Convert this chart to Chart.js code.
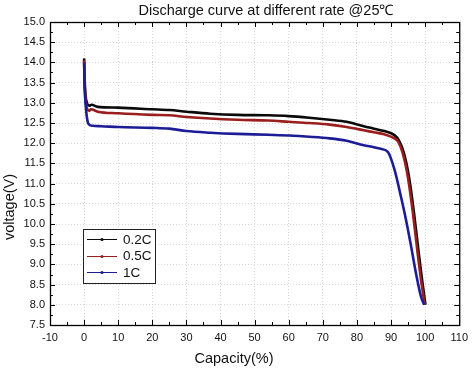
<!DOCTYPE html>
<html>
<head>
<meta charset="utf-8">
<script src="https://cdn.jsdelivr.net/npm/chart.js@4/dist/chart.umd.min.js"></script>
<style>
html,body{margin:0;padding:0;background:#fff;}
#wrap{width:474px;height:370px;}
</style>
</head>
<body>
<div id="wrap"><canvas id="c" width="474" height="370"></canvas></div>
<script>
const titleText = 'Discharge curve at different rate @25\u2103';
const xTitle = 'Capacity(%)';
const yTitle = 'voltage(V)';
const seriesLabels = ['0.2C', '0.5C', '1C'];
const cap02 = [0, 0.15, 0.4, 0.9, 1.5, 2.2, 4, 10, 20, 25, 30, 37, 45, 54, 60, 66, 72, 77, 82, 85, 88, 91, 92.3, 93.7, 95.2, 96.7, 98.1, 99.1, 100.1];
const volt02 = [14.1, 13.6, 13.2, 12.98, 12.93, 12.95, 12.9, 12.88, 12.84, 12.82, 12.78, 12.73, 12.7, 12.69, 12.67, 12.63, 12.58, 12.53, 12.42, 12.36, 12.3, 12.2, 12.07, 11.78, 11.2, 10.3, 9.3, 8.62, 8.0];
const cap05 = [0, 0.15, 0.4, 0.9, 1.5, 2, 4, 10, 20, 25, 30, 37, 45, 54, 60, 66, 72, 77, 82, 85, 88, 91, 92, 93.4, 94.9, 96.4, 97.8, 98.8, 99.9];
const volt05 = [14.05, 13.5, 13.1, 12.85, 12.8, 12.84, 12.78, 12.74, 12.7, 12.69, 12.65, 12.61, 12.58, 12.56, 12.53, 12.5, 12.46, 12.4, 12.32, 12.27, 12.22, 12.12, 12.05, 11.76, 11.18, 10.28, 9.28, 8.61, 8.0];
const cap1 = [0, 0.15, 0.5, 1.0, 1.5, 2.5, 5, 10, 20, 25, 30, 37, 45, 54, 60, 66, 72, 77, 82, 85, 87, 89.1, 91, 92.9, 94.4, 95.9, 97.3, 98.8, 99.7];
const volt1 = [14.0, 13.4, 12.9, 12.55, 12.46, 12.43, 12.42, 12.4, 12.38, 12.36, 12.3, 12.26, 12.23, 12.21, 12.19, 12.16, 12.12, 12.06, 11.95, 11.9, 11.86, 11.78, 11.35, 10.68, 10.1, 9.44, 8.79, 8.2, 8.0];
const xMin = -10, xMax = 110, xStep = 10;
const yMin = 7.5, yMax = 15, yStep = 0.5;

const colors = ['#0a0a0a', '#9a1e1e', '#1c1c96'];
const toPts = (xs, ys) => xs.map((x, i) => ({x: x, y: ys[i]}));

const FONT = '"Liberation Sans", Arial, sans-serif';

const framePlugin = {
  id: 'frame',
  afterDraw(chart) {
    const ctx = chart.ctx;
    const a = chart.chartArea;
    const xs = chart.scales.x, ys = chart.scales.y;
    ctx.save();
    ctx.strokeStyle = '#000';
    ctx.lineWidth = 1;
    ctx.beginPath();
    for (let v = xMin; v <= xMax + 1e-9; v += xStep / 2) {
      const px = Math.round(xs.getPixelForValue(v)) + 0.5;
      const major = Math.abs((v - xMin) / xStep - Math.round((v - xMin) / xStep)) < 1e-6;
      const len = major ? 5 : 3;
      ctx.moveTo(px, a.bottom); ctx.lineTo(px, a.bottom - len);
      ctx.moveTo(px, a.top); ctx.lineTo(px, a.top + len);
    }
    for (let v = yMin; v <= yMax + 1e-9; v += yStep / 2) {
      const py = Math.round(ys.getPixelForValue(v)) + 0.5;
      const major = Math.abs((v - yMin) / yStep - Math.round((v - yMin) / yStep)) < 1e-6;
      const len = major ? 5 : 3;
      ctx.moveTo(a.left, py); ctx.lineTo(a.left + len, py);
      ctx.moveTo(a.right, py); ctx.lineTo(a.right - len, py);
    }
    ctx.stroke();
    ctx.lineWidth = 1.3;
    ctx.strokeRect(a.left + 0.5, a.top + 0.5, a.right - a.left, a.bottom - a.top);

    // titles
    ctx.fillStyle = '#111';
    ctx.textAlign = 'center';
    ctx.textBaseline = 'middle';
    ctx.font = '14.5px ' + FONT;
    ctx.fillText(titleText, 266, 11);
    ctx.fillText(xTitle, 234, 359);
    ctx.save();
    ctx.translate(10, 207);
    ctx.rotate(-Math.PI / 2);
    ctx.fillText(yTitle, 0, 0);
    ctx.restore();

    // legend box inside plot
    const lx = a.left + 33, ly = a.top + 207, lw = 72, lh = 54;
    ctx.textAlign = 'left';
    ctx.lineWidth = 1;
    ctx.fillStyle = '#fff';
    ctx.fillRect(lx, ly, lw, lh);
    ctx.strokeStyle = '#222';
    ctx.strokeRect(lx + 0.5, ly + 0.5, lw, lh);
    ctx.font = '13.5px ' + FONT;
    ctx.textBaseline = 'middle';
    chart.data.datasets.forEach((ds, i) => {
      const yy = ly + 10 + i * 16.7;
      ctx.strokeStyle = ds.borderColor;
      ctx.lineWidth = 1;
      ctx.beginPath();
      ctx.moveTo(lx + 4, Math.round(yy) + 0.5);
      ctx.lineTo(lx + 34, Math.round(yy) + 0.5);
      ctx.stroke();
      ctx.fillStyle = ds.borderColor;
      ctx.beginPath();
      ctx.arc(lx + 19, Math.round(yy) + 0.5, 1.6, 0, Math.PI * 2);
      ctx.fill();
      ctx.fillStyle = '#111';
      ctx.fillText(ds.label, lx + 40, yy + 1);
    });
    ctx.restore();
  }
};

new Chart(document.getElementById('c'), {
  type: 'line',
  data: {
    datasets: [
      {label: seriesLabels[0], data: toPts(cap02, volt02), borderColor: colors[0], order: 3},
      {label: seriesLabels[1], data: toPts(cap05, volt05), borderColor: colors[1], order: 2},
      {label: seriesLabels[2], data: toPts(cap1, volt1), borderColor: colors[2], order: 1}
    ].map(d => Object.assign(d, {borderWidth: 2.6, pointRadius: 0, cubicInterpolationMode: 'monotone', fill: false}))
  },
  plugins: [framePlugin],
  options: {
    responsive: false,
    animation: false,
    devicePixelRatio: 1,
    layout: {padding: {left: 2, right: 12, top: 22, bottom: 2}},
    plugins: {
      legend: {display: false},
      tooltip: {enabled: false},
      title: {display: false}
    },
    scales: {
      x: {
        type: 'linear',
        min: xMin, max: xMax,
        ticks: {stepSize: xStep, color: '#111', font: {family: FONT, size: 11}, padding: 6, maxRotation: 0},
        grid: {color: '#d8d8d8', lineWidth: 1, drawTicks: false},
        border: {display: false, dash: [1, 2]},
        afterFit(s) { s.height = 43; }
      },
      y: {
        type: 'linear',
        min: yMin, max: yMax,
        ticks: {stepSize: yStep, color: '#111', font: {family: FONT, size: 11}, padding: 5, callback: v => Number(v).toFixed(1)},
        grid: {color: '#d8d8d8', lineWidth: 1, drawTicks: false},
        border: {display: false, dash: [1, 2]},
        afterFit(s) { s.width = 48; }
      }
    }
  }
});
</script>
</body>
</html>
